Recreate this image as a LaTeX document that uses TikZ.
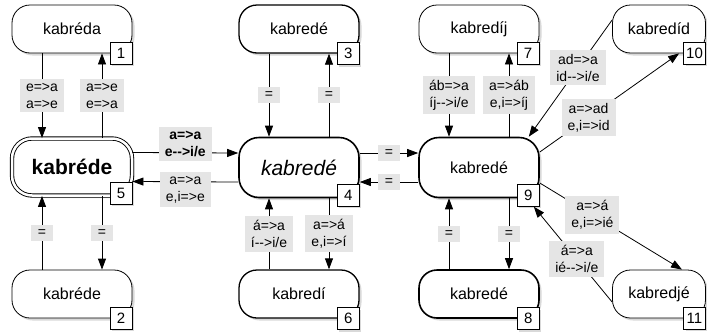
\documentclass[tikz,border=0pt]{standalone}
\usepackage{fontspec}
\setmainfont{Liberation Sans}
\usetikzlibrary{arrows.meta,shadows}

\begin{document}
\begin{tikzpicture}[x=1pt,y=-1pt,
		word/.style={draw,fill=white,rounded corners=18pt,minimum width=120pt,
			minimum height=48pt,inner sep=0pt,line width=.8pt,
			font=\fontsize{16}{19}\selectfont,
			drop shadow={shadow xshift=2.5pt,shadow yshift=-2.5pt,opacity=.3}},
		midword/.style={minimum height=60pt,rounded corners=20pt},
		narrow/.style={minimum width=93pt},
		medium/.style={line width=1.3pt},
		heavy/.style={line width=1.6pt},
		num/.style={draw,fill=white,anchor=east,minimum size=22pt,inner sep=0pt,
			line width=.8pt,font=\fontsize{15}{18}\selectfont,
			drop shadow={shadow xshift=2pt,shadow yshift=-2pt,opacity=.3}},
		lbl/.style={fill=black!10,inner xsep=6pt,inner ysep=4pt,align=center,
			font=\fontsize{14}{17}\selectfont},
		eqlbl/.style={lbl,inner xsep=7pt,inner ysep=2.5pt,text height=9pt,text depth=2pt},
		link/.style={line width=.8pt,-{Triangle[length=11pt,width=8pt]}}]
	\useasboundingbox (0,0) rectangle (707,335);

	\node[word] (n1) at (72,29) {kabréda};
	\node[word] (n2) at (72,294) {kabréde};
	\node[word,medium] (n3) at (299,29) {kabredé};
	\node[word,midword,heavy,font=\fontsize{21}{25}\selectfont\itshape]
		(n4) at (299,167.5) {kabredé};
	\node[word,midword,double,double distance=2.5pt,line width=.9pt,
		minimum height=57pt,font=\fontsize{21}{25}\selectfont\bfseries]
		(n5) at (72,167) {kabréde};
	\node[word,medium] (n6) at (299,294) {kabredí};
	\node[word] (n7) at (479,29) {kabredíj};
	\node[word,heavy] (n8) at (479,294) {kabredé};
	\node[word,midword,heavy] (n9) at (479,167.5) {kabredé};
	\node[word,narrow] (n10) at (659,29) {kabredíd};
	\node[word,narrow] (n11) at (659,294) {kabredjé};

	\node[num] (b1) at (n1.south east) {1};
	\node[num] (b2) at (n2.south east) {2};
	\node[num] (b3) at (n3.south east) {3};
	\node[num] (b4) at ([yshift=3pt]n4.south east) {4};
	\node[num] (b5) at ([yshift=3pt]n5.south east) {5};
	\node[num] (b6) at (n6.south east) {6};
	\node[num] (b7) at (n7.south east) {7};
	\node[num] (b8) at (n8.south east) {8};
	\node[num] (b9) at ([yshift=3pt]n9.south east) {9};
	\node[num] (b10) at (n10.south east) {10};
	\node[num] (b11) at (n11.south east) {11};

	\draw[link] ([xshift=-30pt]n1.south) -- node[lbl] {e=>a\\a=>e} ([xshift=-30pt]n5.north);
	\draw[link] ([xshift=30pt]n5.north) -- node[lbl] {a=>e\\e=>a} ([xshift=30pt]n1.south);
	\draw[link] ([xshift=30pt]n5.south) -- node[eqlbl] {=} ([xshift=30pt]n2.north);
	\draw[link] ([xshift=-30pt]n2.north) -- node[eqlbl] {=} ([xshift=-30pt]n5.south);

	\draw[link] ([xshift=-30pt]n3.south) -- node[eqlbl] {=} ([xshift=-30pt]n4.north);
	\draw[link] ([xshift=30pt]n4.north) -- node[eqlbl] {=} ([xshift=30pt]n3.south);
	\draw[link] ([xshift=30pt]n4.south) -- node[lbl] {a=>á\\e,i=>í} ([xshift=30pt]n6.north);
	\draw[link] ([xshift=-30pt]n6.north) -- node[lbl] {á=>a\\í-{}->i/e} ([xshift=-30pt]n4.south);

	\draw[link] ([xshift=-30pt]n7.south) -- node[lbl] {áb=>a\\íj-{}->i/e} ([xshift=-30pt]n9.north);
	\draw[link] ([xshift=30pt]n9.north) -- node[lbl] {a=>áb\\e,i=>íj} ([xshift=30pt]n7.south);
	\draw[link] ([xshift=30pt]n9.south) -- node[eqlbl] {=} ([xshift=30pt]n8.north);
	\draw[link] ([xshift=-30pt]n8.north) -- node[eqlbl] {=} ([xshift=-30pt]n9.south);

	\draw[link] ([yshift=14.5pt]n5.east) -- node[lbl,yshift=8.5pt,font=\fontsize{14}{17}\selectfont\bfseries]
		{a=>a\\e-{}->i/e} ([yshift=14.5pt]n4.west);
	\draw[link] ([yshift=-14.5pt]n4.west) -- node[lbl,yshift=-8pt] {a=>a\\e,i=>e} ([yshift=-14.5pt]n5.east);
	\draw[link] ([yshift=14.5pt]n4.east) -- node[eqlbl] {=} ([yshift=14.5pt]n9.west);
	\draw[link] ([yshift=-14.5pt]n9.west) -- node[eqlbl] {=} ([yshift=-14.5pt]n4.east);

	\draw[link] ([yshift=15.5pt]n9.east) -- node[lbl,pos=.35] {a=>ad\\e,i=>id} ([xshift=-4pt]b10.west);
	\draw[link] ([yshift=9pt]n10.west) -- node[lbl,pos=.41] {ad=>a\\id-{}->i/e} ([xshift=-11pt]n9.north east);
	\draw[link] ([yshift=-15.5pt]n9.east) -- node[lbl,pos=.37] {a=>á\\e,i=>ié} ([xshift=23pt]n11.north);
	\draw[link] ([yshift=-8pt]n11.west) -- node[lbl,pos=.45] {á=>a\\ié-{}->i/e} ([xshift=-6pt]b9.south east);
\end{tikzpicture}
\end{document}
